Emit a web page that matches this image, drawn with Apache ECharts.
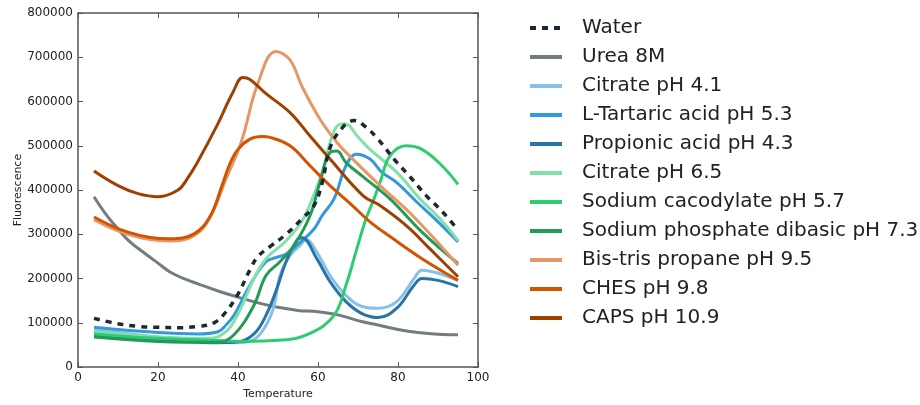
<!DOCTYPE html>
<html>
<head>
<meta charset="utf-8">
<script src="https://cdn.jsdelivr.net/npm/echarts@6/dist/echarts.min.js"></script>
<style>
  html, body { margin: 0; padding: 0; background: #fff; }
  #chart { width: 920px; height: 405px; }
</style>
</head>
<body>
<div id="chart"></div>
<script>
// [temperature, fluorescence]
const water = [[4,110000],[10,98000],[15,92000],[20,90000],[25,89000],[30,92000],[34,100000],[37,125000],[40,165000],[43,220000],[45,250000],[48,272000],[52,300000],[56,335000],[59,365000],[61,415000],[63,495000],[66,540000],[69,557000],[72,542000],[75,515000],[79,470000],[83,430000],[87,388000],[91,352000],[95,310000]]
const urea = [[4,385000],[7,345000],[10,312000],[13,283000],[17,255000],[20,235000],[23,215000],[27,198000],[30,188000],[35,172000],[40,158000],[45,145000],[50,135000],[55,128000],[60,125000],[65,118000],[70,105000],[75,95000],[80,85000],[85,78000],[90,74000],[95,73000]]
const citrate41 = [[4,85000],[20,68000],[35,58000],[40,55000],[43,58000],[46,80000],[48.8,132000],[50.5,207000],[53,252000],[55.5,275000],[57,288000],[59.7,260000],[63,207000],[67,162000],[71,137000],[75,133000],[79.7,148000],[84,200000],[86,219000],[90.5,211000],[95,196000]]
const tartaric = [[4,90000],[20,78000],[30,75000],[35,80000],[37,95000],[39,117000],[43,185000],[47,238000],[50,249000],[52,255000],[54.7,275000],[59,312000],[61,342000],[64,380000],[67,455000],[69.6,481000],[73,470000],[76,440000],[79.7,417000],[84.7,373000],[89.7,331000],[95,283000]]
const propionic = [[4,72000],[20,62000],[35,55000],[40,57000],[44,75000],[47,117000],[49.7,177000],[52,238000],[54.7,286000],[56,292000],[59.7,245000],[63,193000],[67,148000],[71,121000],[75,112000],[79.7,133000],[84,185000],[86,200000],[90,196000],[95,182000]]
const citrate65 = [[4,80000],[20,68000],[33,65000],[37,80000],[40,120000],[44,200000],[47,245000],[52,285000],[56,330000],[59,390000],[61.3,447000],[63,507000],[64.7,544000],[66.75,550000],[70,520000],[73,492000],[79.7,440000],[85.5,380000],[90.5,335000],[95,286000]]
const cacodylate = [[4,75000],[20,65000],[35,60000],[41,58000],[51,61000],[58,76000],[64,117000],[67,185000],[69.7,267000],[72,335000],[74,380000],[75.5,417000],[78,477000],[82,500000],[86,492000],[91,455000],[95,413000]]
const phosphate = [[4,68000],[20,58000],[35,56000],[39,73000],[44,140000],[47,207000],[50.5,238000],[54,275000],[58,342000],[60.5,418000],[63,485000],[64.7,488000],[67,462000],[71,432000],[78,380000],[86,305000],[95,234000]]
const bistris = [[4,333000],[12.5,300000],[23,285000],[29,297000],[33,338000],[37,425000],[40.8,508000],[45,642000],[49.5,713000],[53,694000],[56,634000],[60.5,560000],[64.7,508000],[67,485000],[75.5,410000],[83.7,342000],[95,230000]]
const ches = [[4,339000],[12.5,305000],[23,290000],[29,301000],[33,340000],[36,410000],[38,460000],[40,492000],[43,515000],[46,521000],[48,519000],[53,500000],[58,455000],[63,410000],[68,370000],[73,328000],[78.8,290000],[86,245000],[95,196000]]
const caps = [[4,443000],[10,410000],[15,392000],[20,385000],[25,400000],[27.5,428000],[30,465000],[34.7,545000],[38.8,622000],[41.2,654000],[43,650000],[46.7,620000],[53,575000],[58,522000],[63,470000],[71.3,387000],[75.5,365000],[82,320000],[88,267000],[95,204000]]

const names = ['Water', 'Urea 8M', 'Citrate pH 4.1', 'L-Tartaric acid pH 5.3', 'Propionic acid pH 4.3',
  'Citrate pH 6.5', 'Sodium cacodylate pH 5.7', 'Sodium phosphate dibasic pH 7.3',
  'Bis-tris propane pH 9.5', 'CHES pH 9.8', 'CAPS pH 10.9']
const seriesData = [water, urea, citrate41, tartaric, propionic, citrate65, cacodylate, phosphate, bistris, ches, caps]
const colors = ['#1c2833', '#717d7e', '#85c1e9', '#3498db', '#2874a6', '#82e0aa', '#2ecc71', '#239b56', '#e59866', '#d35400', '#a04000']

const font = 'DejaVu Sans'
const frameLine = { show: true, onZero: false, lineStyle: { color: '#555', width: 1.5 } }
const tick = { show: true, inside: true, length: 5, lineStyle: { color: '#555' } }

const chart = echarts.init(document.getElementById('chart'))
chart.setOption({
  animation: false,
  textStyle: { fontFamily: font },
  grid: { left: 78, right: 442, top: 13, bottom: 36 },
  legend: {
    orient: 'vertical',
    left: 528,
    top: 18,
    padding: 0,
    itemWidth: 32,
    itemHeight: 14,
    itemGap: 9,
    itemStyle: { opacity: 0 },
    lineStyle: { width: 4 },
    textStyle: { fontSize: 20, lineHeight: 20, color: '#222', fontFamily: font, padding: [0, 0, 0, 15] },
    data: names,
  },
  xAxis: [{
    type: 'value', min: 0, max: 100, interval: 20,
    name: 'Temperature', nameLocation: 'middle', nameGap: 19,
    nameTextStyle: { fontSize: 11, color: '#222' },
    axisLine: frameLine, axisTick: tick,
    axisLabel: { fontSize: 12, color: '#222', margin: 5 },
    splitLine: { show: false },
  }, {
    type: 'value', min: 0, max: 100, interval: 20, position: 'top',
    axisLine: frameLine, axisTick: tick, axisLabel: { show: false }, splitLine: { show: false },
  }],
  yAxis: [{
    type: 'value', min: 0, max: 800000, interval: 100000,
    name: 'Fluorescence', nameLocation: 'middle', nameGap: 53,
    nameTextStyle: { fontSize: 11, color: '#222' },
    axisLine: frameLine, axisTick: tick,
    axisLabel: { fontSize: 12, color: '#222', margin: 5, formatter: v => String(v) },
    splitLine: { show: false },
  }, {
    type: 'value', min: 0, max: 800000, interval: 100000, position: 'right',
    axisLine: frameLine, axisTick: tick, axisLabel: { show: false }, splitLine: { show: false },
  }],
  series: seriesData.map((d, i) => ({
    name: names[i],
    type: 'line',
    data: d,
    smooth: 0.4,
    symbol: 'none',
    color: colors[i],
    lineStyle: i === 0
      ? { width: 3.5, color: colors[i], type: [6, 6] }
      : { width: 3, color: colors[i] },
    z: i === 0 ? 10 : 2,
  })),
})
</script>
</body>
</html>
